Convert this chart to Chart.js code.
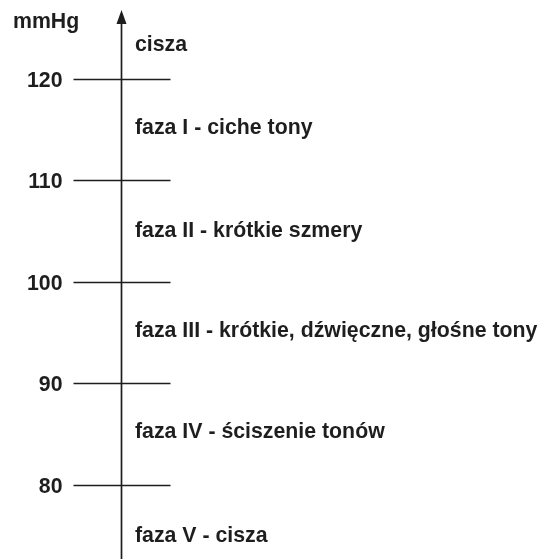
<!DOCTYPE html>
<html>
<head>
<meta charset="utf-8">
<script src="https://cdn.jsdelivr.net/npm/chart.js@4"></script>
<style>
  html, body { margin: 0; padding: 0; background: #fff; }
  #wrap { width: 542px; height: 559px; }
</style>
</head>
<body>
<div id="wrap"><canvas id="myChart"></canvas></div>
<script>
// skala ciśnienia (mmHg)
const tickValues = [120, 110, 100, 90, 80];
const unitLabel = "mmHg";

// fazy Korotkowa
const phaseLabels = [
  "cisza",
  "faza I - ciche tony",
  "faza II - krótkie szmery",
  "faza III - krótkie, dźwięczne, głośne tony",
  "faza IV - ściszenie tonów",
  "faza V - cisza",
];
const phaseValues = [123.3, 115.2, 105, 95.2, 85.2, 75];

const axisX = 0; // x data value of the vertical axis
const arrowTipValue = 126.8;

const ink = "#1e1e1e";
const font = "bold 21.3px 'Liberation Sans', Arial, sans-serif";

const axisPlugin = {
  id: "pressureAxis",
  afterDatasetsDraw(chart) {
    const ctx = chart.ctx;
    const x = chart.scales.x;
    const y = chart.scales.y;
    const ax = Math.round(x.getPixelForValue(axisX)) + 0.5;

    ctx.save();
    ctx.strokeStyle = ink;
    ctx.fillStyle = ink;
    ctx.lineWidth = 1.7;

    // oś pionowa ze strzałką
    const top = y.getPixelForValue(arrowTipValue);
    ctx.beginPath();
    ctx.moveTo(ax, chart.chartArea.bottom);
    ctx.lineTo(ax, top + 8);
    ctx.stroke();
    ctx.beginPath();
    ctx.moveTo(ax, top);
    ctx.lineTo(ax - 5, top + 14);
    ctx.lineTo(ax + 5, top + 14);
    ctx.closePath();
    ctx.fill();

    // kreski i etykiety
    ctx.font = font;
    ctx.textBaseline = "alphabetic";
    tickValues.forEach((v) => {
      const py = Math.round(y.getPixelForValue(v)) + 0.5;
      ctx.beginPath();
      ctx.moveTo(ax - 48, py);
      ctx.lineTo(ax + 49, py);
      ctx.stroke();
      ctx.textAlign = "right";
      ctx.fillText(String(v), ax - 59, py + 7.5);
    });

    ctx.textAlign = "left";
    ctx.fillText(unitLabel, 13, 28);

    // opisy faz
    const meta = chart.getDatasetMeta(0);
    meta.data.forEach((pt, i) => {
      ctx.fillText(phaseLabels[i], pt.x + 14, pt.y + 6);
    });
    ctx.restore();
  },
};

const ctx = document.getElementById("myChart").getContext("2d");
new Chart(ctx, {
  type: "scatter",
  data: {
    datasets: [
      {
        label: "fazy",
        data: phaseValues.map((v) => ({ x: axisX, y: v })),
        pointRadius: 0,
      },
    ],
  },
  options: {
    responsive: true,
    maintainAspectRatio: false,
    animation: false,
    layout: { padding: 0 },
    plugins: { legend: { display: false }, tooltip: { enabled: false } },
    scales: {
      x: { type: "linear", min: -121, max: 421, display: false },
      y: { type: "linear", min: 72.71, max: 127.78, display: false },
    },
  },
  plugins: [axisPlugin],
});
</script>
</body>
</html>
